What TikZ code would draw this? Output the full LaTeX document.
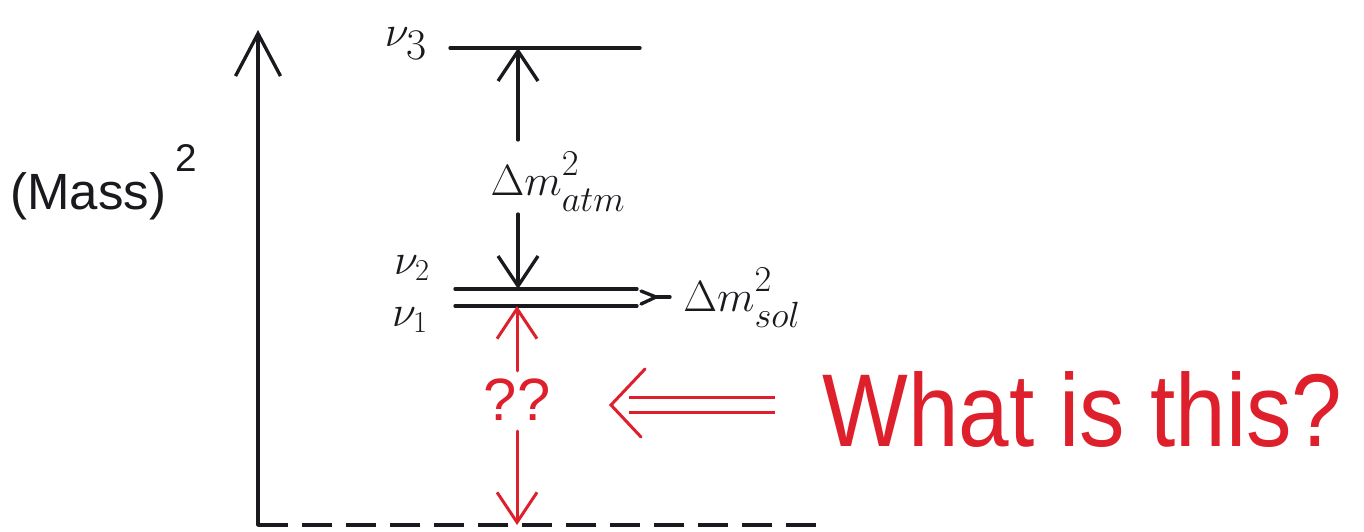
\documentclass[tikz,border=0pt]{standalone}
\usepackage{fontspec}
\usepackage{graphicx}
\setmainfont{Liberation Sans}
\usetikzlibrary{arrows.meta,calc}
\definecolor{redpen}{RGB}{222,32,44}
\definecolor{inkc}{RGB}{25,25,30}
\tikzset{
  ink/.style={draw=inkc, line width=1.9pt, line cap=round},
  redink/.style={draw=redpen, line width=1.7pt, line cap=round},
  bigbarb/.style={-{Straight Barb[length=0.85cm,width=0.9cm]}},
  barb/.style={-{Straight Barb[length=0.6cm,width=0.8cm]}},
  lbl/.style={inner sep=0pt, text=inkc},
  rlbl/.style={inner sep=0pt, text=redpen},
}
\begin{document}
\begin{tikzpicture}[x=0.02cm,y=-0.02cm]
\useasboundingbox[fill=white] (0,0) rectangle (1364,531);
% axis
\coordinate (O) at (258,525);
\coordinate (Top) at (258,30);
\draw[ink,bigbarb] (O) -- (Top);
\draw[ink, line width=2.2pt, line cap=butt, dash pattern=on 0.6cm off 0.28cm] (O) -- (826,525) coordinate (Oend);
\node[lbl, font=\fontsize{29}{29}\selectfont, anchor=west] (mass) at (10,196) {(Mass)};
\node[lbl, font=\fontsize{22}{22}\selectfont] (sq) at (186,158) {2};
% levels
\coordinate (n3L) at (450,48); \coordinate (n3R) at (640,48);
\coordinate (n2L) at (455,289); \coordinate (n2R) at (637,289);
\coordinate (n1L) at (455,306); \coordinate (n1R) at (637,306);
\draw[ink] (n3L) -- (n3R);
\draw[ink] (n2L) -- (n2R);
\draw[ink] (n1L) -- (n1R);
\node[lbl, font=\fontsize{34}{34}\selectfont] (nu3) at (406,44) {$\nu_3$};
\node[lbl, font=\fontsize{26}{26}\selectfont] (nu2) at (412,268) {$\nu_2$};
\node[lbl, font=\fontsize{26}{26}\selectfont] (nu1) at (410,320) {$\nu_1$};
% atm
\node[lbl, font=\fontsize{30}{30}\selectfont] (datm) at (558,182) {$\Delta m^{\raisebox{0.08em}{$\scriptstyle 2$}}_{\raisebox{-0.1em}{$\scriptstyle atm$}}$};
\coordinate (atmT) at (518,140);
\coordinate (atmB) at (518,214);
\draw[ink,barb] (atmT) -- (atmT |- n3L);
\draw[ink,barb] (atmB) -- (atmB |- n2L);
% sol
\coordinate (solTip) at (656,297);
\draw[ink] (n2R) ++(4,2) -- (solTip) -- ($(n1R)+(4,-2)$);
\draw[ink] (solTip) -- ++(14,0);
\node[lbl, font=\fontsize{30}{30}\selectfont, anchor=west] (dsol) at (683,298) {$\Delta m^{\raisebox{0.08em}{$\scriptstyle 2$}}_{\raisebox{-0.1em}{$\scriptstyle sol$}}$};
% red part
\node[rlbl, font=\fontsize{34}{34}\selectfont] (qq) at (517,400) {??};
\draw[redink,barb] (qq.north) ++(0,-8) -- (qq.north |- n1L);
\draw[redink,barb] (qq.south) ++(0,10) -- (qq.south |- O);
\node[rlbl, anchor=base west] (what) at (822,446) {\resizebox{10.4cm}{1.5cm}{What is this?}};
\coordinate (dR) at (775,405);
\coordinate (dL) at (611,405);
\draw[draw=redpen, line width=1.5pt, double=white, double distance=0.24cm] (dR) -- ($(dL)+(18,0)$);
\draw[redink] ($(dL)+(34,-36)$) -- (dL) -- ($(dL)+(30,32)$);
\end{tikzpicture}
\end{document}
